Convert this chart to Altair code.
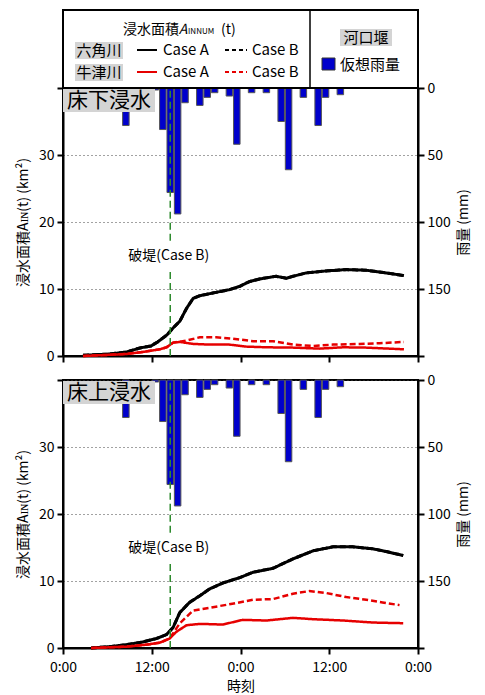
import altair as alt
import pandas as pd

FONT = "Noto Sans CJK JP"
RED = "#e60000"
BLUE = "#0000cc"
GREEN = "#2e8b2e"
GRAY_BG = "#d4d4d4"

# ---------------- data ----------------
rain_hour = [8, 12, 13, 14, 15, 16, 18, 19, 20, 22, 23, 25, 27, 29, 30, 32, 34, 35, 37]
rain_mm = [28, 1.5, 31, 78, 94, 11, 13, 7, 3.5, 6, 42, 3.5, 3.5, 25, 61, 7, 28, 7, 5]

breach_hour = 14.5

# 床下浸水 (top panel)
lo_rk_h = [2.7, 6.3, 8.6, 10.4, 11.9, 12.8, 14.0, 14.9, 15.8, 16.7, 17.6, 18.5, 20.7, 22.5,
           23.9, 25.2, 26.6, 28.8, 30.2, 31.1, 32.9, 35.6, 38.3, 41.0, 43.7, 46.1]
lo_rk_a = [0.1, 0.3, 0.6, 1.2, 1.5, 2.1, 3.1, 4.2, 5.2, 7.1, 8.6, 9.0, 9.5, 9.9,
           10.4, 11.1, 11.5, 11.9, 11.6, 11.9, 12.4, 12.7, 12.9, 12.8, 12.4, 12.0]
lo_rk_b = [0.1, 0.3, 0.6, 1.2, 1.5, 2.1, 3.1, 4.2, 5.2, 7.1, 8.6, 9.0, 9.5, 9.9,
           10.4, 11.1, 11.5, 11.9, 11.6, 11.9, 12.4, 12.7, 12.9, 12.8, 12.4, 12.0]
lo_us_a_h = [2.7, 8.6, 10.8, 13.1, 14.0, 14.9, 15.8, 17.6, 19.8, 22.5, 24.8, 27.5, 31.1, 34.7, 37.9, 41.0, 46.1]
lo_us_a = [0.0, 0.3, 0.6, 1.0, 1.3, 2.0, 2.1, 1.8, 1.7, 1.7, 1.4, 1.3, 1.25, 1.1, 1.3, 1.25, 1.0]
lo_us_b_h = [2.7, 8.6, 10.8, 13.1, 14.0, 14.9, 16.7, 18.5, 20.7, 22.9, 25.7, 28.4, 31.1, 33.8, 36.5, 40.1, 42.8, 46.1]
lo_us_b = [0.0, 0.3, 0.6, 1.0, 1.3, 2.0, 2.3, 2.8, 2.8, 2.6, 2.2, 2.2, 1.7, 1.5, 1.7, 1.8, 1.9, 2.1]

# 床上浸水 (bottom panel)
up_rk_h = [3.8, 6.3, 8.6, 10.8, 12.6, 14.0, 14.9, 15.8, 17.1, 18.5, 19.8, 21.6, 23.9, 25.7,
           28.4, 31.1, 33.8, 36.5, 39.2, 41.9, 43.7, 46.0]
up_rk_a = [0.0, 0.2, 0.5, 0.9, 1.4, 2.0, 3.1, 5.3, 6.8, 7.8, 8.8, 9.7, 10.5, 11.3,
           11.9, 13.3, 14.5, 15.1, 15.1, 14.8, 14.4, 13.8]
up_rk_b = [0.0, 0.2, 0.5, 0.9, 1.4, 2.0, 3.1, 5.3, 6.8, 7.8, 8.8, 9.7, 10.5, 11.3,
           11.9, 13.3, 14.5, 15.1, 15.1, 14.8, 14.4, 13.8]
up_us_a_h = [3.8, 8.6, 11.3, 13.1, 14.4, 15.3, 16.7, 18.5, 21.6, 24.3, 27.5, 31.1, 33.8, 37.9, 41.9, 46.0]
up_us_a = [0.0, 0.2, 0.5, 0.8, 1.4, 2.4, 3.4, 3.6, 3.5, 4.2, 4.1, 4.5, 4.3, 4.1, 3.8, 3.7]
up_us_b_h = [3.8, 8.6, 11.3, 13.1, 14.4, 15.8, 17.6, 19.8, 22.9, 25.7, 28.4, 31.1, 33.3, 35.6, 38.3, 41.0, 43.2, 45.5]
up_us_b = [0.0, 0.2, 0.5, 0.8, 1.4, 3.7, 5.6, 6.0, 6.6, 7.2, 7.3, 8.1, 8.5, 8.2, 7.6, 7.2, 6.8, 6.4]

x_ticks = [0, 12, 24, 36, 48]
area_ticks = [0, 10, 20, 30, 40]
rain_ticks = [0, 50, 100, 150, 200]

W, H = 355, 268

rain_df = pd.DataFrame({"start": [h + 0.06 for h in rain_hour],
                        "end": [h + 0.94 for h in rain_hour],
                        "rain": rain_mm,
                        "base": [0] * len(rain_mm)})
one = pd.DataFrame({"k": [0]})

xscale = alt.Scale(domain=[0, 48], nice=False, zero=False)
yscale = alt.Scale(domain=[0, 40], nice=False)


def xaxis(labels):
    if labels:
        return alt.Axis(values=x_ticks, title="時刻", grid=False, labelFlush=False,
                        labelExpr="datum.value % 24 == 0 ? '0:00' : '12:00'",
                        labelPadding=6, titlePadding=5,
                        labelColor="black", titleColor="black")
    return alt.Axis(values=x_ticks, title=None, grid=False, labels=False)


LEFT_AXIS = alt.Axis(values=area_ticks, title="浸水面積Aɪɴ(t) (km²)",
                     labelExpr="datum.value == 40 ? '' : datum.label",
                     grid=True, gridDash=[1, 3], gridColor="#444", gridWidth=1,
                     titlePadding=8, labelColor="black", titleColor="black")


def series(h, v, color, dash, width, xa):
    df = pd.DataFrame({"t": h, "v": v})
    return alt.Chart(df).mark_line(color=color, strokeDash=dash, strokeWidth=width).encode(
        x=alt.X("t:Q", scale=xscale, axis=xa),
        y=alt.Y("v:Q", scale=yscale, axis=LEFT_AXIS),
    )


def vtext(txt, x, y, size=15, align="center", baseline="middle", **kw):
    return alt.Chart(one).mark_text(font=FONT, fontSize=size, align=align,
                                    baseline=baseline, color="black", **kw).encode(
        x=alt.value(x), y=alt.value(y), text=alt.value(txt))


def vrect(x, x2, y, y2, **kw):
    return alt.Chart(one).mark_rect(**kw).encode(
        x=alt.value(x), x2=alt.value(x2), y=alt.value(y), y2=alt.value(y2))


def vrule(x, x2, y, y2, **kw):
    return alt.Chart(one).mark_rule(**kw).encode(
        x=alt.value(x), x2=alt.value(x2), y=alt.value(y), y2=alt.value(y2))


def panel(label, rk_h, rk_a, rk_b, usa_h, usa, usb_h, usb, show_x, with_legend):
    xa = xaxis(show_x)
    lines = [
        series(rk_h, rk_a, "black", [1, 0], 3, xa),
        series(rk_h, rk_b, "black", [6, 3], 3, xa),
        series(usb_h, usb, RED, [6, 3], 2.5, xa),
        series(usa_h, usa, RED, [1, 0], 2.5, xa),
    ]
    seg_df = pd.DataFrame({"t": [breach_hour, breach_hour], "y0": [0, 17.2], "y1": [13.0, 40]})
    breach = alt.Chart(seg_df).mark_rule(color=GREEN, strokeDash=[7, 4], strokeWidth=1.5).encode(
        x=alt.X("t:Q", scale=xscale, axis=xa),
        y=alt.Y("y0:Q", scale=yscale, axis=LEFT_AXIS), y2="y1:Q")
    txt_df = pd.DataFrame({"t": [14.3], "v": [14.9], "s": ["破堤(Case B)"]})
    btext = alt.Chart(txt_df).mark_text(font=FONT, fontSize=14, color="black").encode(
        x=alt.X("t:Q", scale=xscale, axis=xa),
        y=alt.Y("v:Q", scale=yscale, axis=LEFT_AXIS), text="s:N")
    inner = alt.layer(*lines, breach, btext)

    bars = alt.Chart(rain_df).mark_bar(color=BLUE, stroke="#555", strokeWidth=1).encode(
        x=alt.X("start:Q", scale=xscale, axis=xa), x2="end:Q",
        y=alt.Y("rain:Q", scale=alt.Scale(domain=[0, 200], reverse=True, nice=False),
                axis=alt.Axis(orient="right", values=rain_ticks, title="雨量 (mm)",
                              titleAngle=-90, grid=False, titlePadding=20,
                              labelColor="black", titleColor="black",
                              labelExpr="datum.value == 200 ? '' : datum.label")),
        y2="base:Q",
    )
    body = alt.layer(bars, inner).resolve_scale(y="independent")

    extras = [vrect(0, 92, 1, 24, color=GRAY_BG),
              vtext(label, 46, 13, size=21)]
    if with_legend:
        top = -78
        extras += [
            vrect(0, W, top, 0, fillOpacity=0, stroke="black", strokeWidth=2),
            vrule(247, 247, top, 0, color="black", strokeWidth=1.5),
            vtext("浸水面積", 88, top + 24, size=14, baseline="alphabetic"),
            vtext("A", 120, top + 24, size=14, baseline="alphabetic", fontStyle="italic"),
            vtext("INNUM", 125, top + 24, size=8, align="left", baseline="alphabetic"),
            vtext("(t)", 158, top + 24, size=14, align="left", baseline="alphabetic"),
            vrect(12, 60, top + 32, top + 49, color=GRAY_BG),
            vtext("六角川", 36, top + 40.5),
            vrule(74, 94, top + 40, top + 40, color="black", strokeWidth=2),
            vtext("Case A", 100, top + 40, align="left"),
            vrule(162, 184, top + 40, top + 40, color="black", strokeWidth=2, strokeDash=[4, 3]),
            vtext("Case B", 189, top + 40, align="left"),
            vrect(12, 60, top + 54, top + 71, color=GRAY_BG),
            vtext("牛津川", 36, top + 62.5),
            vrule(74, 94, top + 62, top + 62, color=RED, strokeWidth=2),
            vtext("Case A", 100, top + 62, align="left"),
            vrule(162, 184, top + 62, top + 62, color=RED, strokeWidth=2, strokeDash=[4, 3]),
            vtext("Case B", 189, top + 62, align="left"),
            vrect(277, 329, top + 19, top + 36, color=GRAY_BG),
            vtext("河口堰", 303, top + 27.5),
            vrect(259, 272, top + 48, top + 60, color=BLUE, stroke="#333", strokeWidth=1),
            vtext("仮想雨量", 277, top + 54.5, align="left"),
        ]
    return alt.layer(body, *extras).properties(width=W, height=H)


p1 = panel("床下浸水", lo_rk_h, lo_rk_a, lo_rk_b, lo_us_a_h, lo_us_a, lo_us_b_h, lo_us_b,
           show_x=False, with_legend=True)
p2 = panel("床上浸水", up_rk_h, up_rk_a, up_rk_b, up_us_a_h, up_us_a, up_us_b_h, up_us_b,
           show_x=True, with_legend=False)

chart = alt.vconcat(p1, p2, spacing=8).properties(
    padding={"left": 7, "top": 0, "right": 0, "bottom": 0}
).configure_view(stroke="black", strokeWidth=2).configure_axis(
    domainColor="black", domainWidth=2, tickColor="black", tickWidth=2, tickSize=6,
    labelFont=FONT, labelFontSize=14, labelColor="black",
    titleFont=FONT, titleFontSize=14, titleFontWeight="normal", titleColor="black",
    labelPadding=3,
).configure_text(font=FONT)

chart.save("out.html", embed_options={"renderer": "svg", "actions": False})
